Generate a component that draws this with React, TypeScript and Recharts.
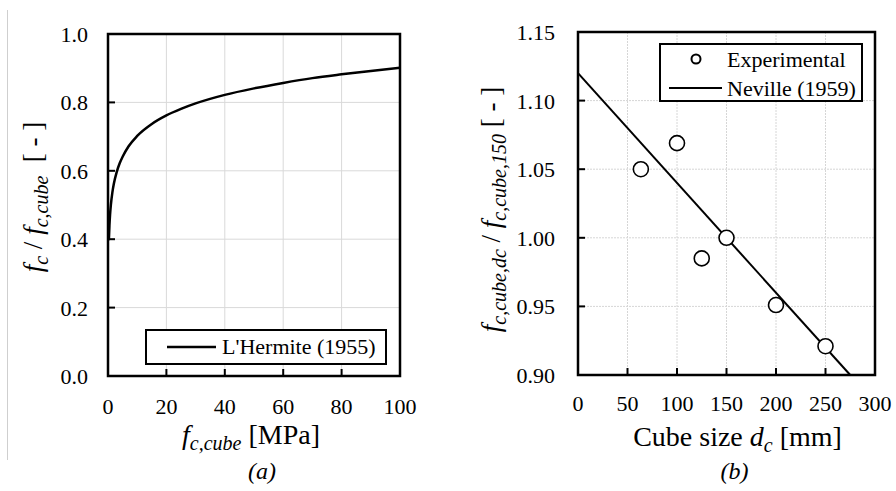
import React from 'react';
import {
  CartesianGrid,
  ComposedChart,
  Legend,
  Line,
  LineChart,
  ReferenceArea,
  Scatter,
  XAxis,
  YAxis,
} from 'recharts';

const FONT = "'Liberation Serif', 'DejaVu Serif', 'Times New Roman', serif";
const NB = '\u00a0';

// (a) L'Hermite (1955): f_c / f_c,cube against f_c,cube
const cubeStrength = [0.3, 0.5, 0.7, 1, 1.5, 2, 3, 4, 5, 7, 10, 15, 20, 25, 30, 40, 50, 60, 70, 80, 90, 100];
const strengthRatio = [
  0.397, 0.441, 0.471, 0.502, 0.537, 0.562, 0.597, 0.622, 0.641, 0.671, 0.702, 0.737, 0.762, 0.781,
  0.797, 0.822, 0.841, 0.857, 0.871, 0.882, 0.892, 0.901,
];
const strengthTicks = [0, 20, 40, 60, 80, 100];
const ratioTicks = [0, 0.2, 0.4, 0.6, 0.8, 1.0];

// (b) size effect: experimental points and Neville (1959)
const cubeSize = [63.5, 100, 125, 150, 200, 250];
const sizeRatio = [1.05, 1.069, 0.985, 1.0, 0.951, 0.921];
const nevilleSize = [0, 275];
const nevilleRatio = [1.12, 0.9];
const sizeTicks = [0, 50, 100, 150, 200, 250, 300];
const sizeRatioTicks = [0.9, 0.95, 1.0, 1.05, 1.1, 1.15];

const hermiteData = cubeStrength.map((x, i) => ({ x, y: strengthRatio[i] }));
const experimentalData = cubeSize.map((x, i) => ({ x, y: sizeRatio[i] }));
const nevilleData = nevilleSize.map((x, i) => ({ x, y: nevilleRatio[i] }));

const txt = { fontFamily: FONT, fill: '#000' };

const makeYTick = (digits: number, gap: number) => (props: any) => {
  const { x, y, payload } = props;
  return (
    <g>
      <line x1={x} x2={x + 7} y1={y} y2={y} stroke="#000" strokeWidth={2} />
      <text x={x - gap} y={y + 8} textAnchor="end" fontSize={22} style={txt}>
        {Number(payload.value).toFixed(digits)}
      </text>
    </g>
  );
};

const makeXTick = (offset: number) => (props: any) => {
  const { x, y, payload } = props;
  return (
    <g>
      <line x1={x} x2={x} y1={y} y2={y - 7} stroke="#000" strokeWidth={2} />
      <text x={x} y={y + offset} textAnchor="middle" fontSize={22} style={txt}>
        {payload.value}
      </text>
    </g>
  );
};

const sub = (t: string) => (
  <tspan fontStyle="italic" fontSize={20} dy={6}>
    {t}
  </tspan>
);

const LeftXLabel = ({ viewBox }: any) => {
  const cx = viewBox.x + viewBox.width / 2;
  return (
    <g>
      <text x={cx - 3} y={444} textAnchor="middle" fontSize={28} style={txt}>
        <tspan fontStyle="italic">f</tspan>
        {sub('c,cube')}
        <tspan dy={-6}>{NB}[MPa]</tspan>
      </text>
      <text x={262} y={479} textAnchor="middle" fontSize={24} fontStyle="italic" style={txt}>
        (a)
      </text>
    </g>
  );
};

const LeftYLabel = ({ viewBox }: any) => {
  const cx = 42;
  const cy = viewBox.y + viewBox.height / 2 - 8;
  return (
    <text
      transform={`rotate(-90 ${cx} ${cy})`}
      x={cx}
      y={cy}
      textAnchor="middle"
      fontSize={27}
      style={txt}
    >
      <tspan fontStyle="italic">f</tspan>
      {sub('c')}
      <tspan dy={-6}>{NB}/{NB}</tspan>
      <tspan fontStyle="italic">f</tspan>
      {sub('c,cube')}
      <tspan dy={-6}>{NB}{NB}[ - ]</tspan>
    </text>
  );
};

const RightXLabel = ({ viewBox }: any) => {
  const cx = viewBox.x + viewBox.width / 2;
  return (
    <g>
      <text x={cx + 11} y={446} textAnchor="middle" fontSize={28} style={txt}>
        Cube size{NB}
        <tspan fontStyle="italic">d</tspan>
        {sub('c')}
        <tspan dy={-6}>{NB}[mm]</tspan>
      </text>
      <text x={cx + 8} y={479} textAnchor="middle" fontSize={24} fontStyle="italic" style={txt}>
        (b)
      </text>
    </g>
  );
};

const RightYLabel = ({ viewBox }: any) => {
  const cx = viewBox.x + 60;
  const cy = viewBox.y + viewBox.height / 2 + 6;
  return (
    <text
      transform={`rotate(-90 ${cx} ${cy})`}
      x={cx}
      y={cy}
      textAnchor="middle"
      fontSize={27}
      style={txt}
    >
      <tspan fontStyle="italic">f</tspan>
      {sub('c,cube,dc')}
      <tspan dy={-6}>{NB}/{NB}</tspan>
      <tspan fontStyle="italic">f</tspan>
      {sub('c,cube,150')}
      <tspan dy={-6}>{NB}[ - ]</tspan>
    </text>
  );
};

const HermiteLegend = () => (
  <svg width={242} height={36} style={{ display: 'block' }}>
    <rect x={1} y={1} width={240} height={34} fill="#fff" stroke="#000" strokeWidth={2} />
    <line x1={22} x2={71} y1={18} y2={18} stroke="#000" strokeWidth={2.5} />
    <text x={77} y={25} fontSize={22} style={txt}>
      L'Hermite (1955)
    </text>
  </svg>
);

const SizeLegend = () => (
  <svg width={204} height={59} style={{ display: 'block' }}>
    <rect x={1} y={1} width={202} height={57} fill="#fff" stroke="#000" strokeWidth={2} />
    <circle cx={37} cy={16} r={4.5} fill="#fff" stroke="#000" strokeWidth={2} />
    <text x={68} y={24} fontSize={22} style={txt}>
      Experimental
    </text>
    <line x1={10} x2={63} y1={45} y2={45} stroke="#000" strokeWidth={2} />
    <text x={68} y={53} fontSize={22} style={txt}>
      Neville (1959)
    </text>
  </svg>
);

const OpenCircle = (props: any) => (
  <circle cx={props.cx} cy={props.cy} r={7.5} fill="#fff" stroke="#000" strokeWidth={1.6} />
);

export default function App() {
  return (
    <div
      style={{
        position: 'absolute',
        left: 0,
        top: 0,
        width: 896,
        height: 491,
        background: '#fff',
        fontFamily: FONT,
      }}
    >
      <div style={{ position: 'absolute', left: 7, top: 10, width: 1, height: 450, background: '#cfcfcf' }} />

      <div style={{ position: 'absolute', left: 0, top: 0 }}>
        <LineChart
          width={440}
          height={491}
          data={hermiteData}
          margin={{ top: 34, right: 40, bottom: 85, left: 0 }}
          style={{ fontFamily: FONT }}
        >
          <CartesianGrid stroke="#d9d9d9" strokeWidth={1} />
          <XAxis
            type="number"
            dataKey="x"
            domain={[0, 100]}
            ticks={strengthTicks}
            interval={0}
            height={30}
            axisLine={false}
            tickLine={false}
            tickSize={0}
            tickMargin={0}
            tick={makeXTick(38)}
            label={LeftXLabel}
          />
          <YAxis
            type="number"
            dataKey="y"
            domain={[0, 1]}
            ticks={ratioTicks}
            interval={0}
            width={108}
            axisLine={false}
            tickLine={false}
            tickSize={0}
            tickMargin={0}
            tick={makeYTick(1, 20)}
            label={LeftYLabel}
          />
          <Line
            type="monotone"
            dataKey="y"
            stroke="#000"
            strokeWidth={2.5}
            dot={false}
            isAnimationActive={false}
          />
          <ReferenceArea x1={0} x2={100} y1={0} y2={1} fill="none" stroke="#000" strokeWidth={2.5} />
          <Legend
            layout="vertical"
            align="center"
            verticalAlign="middle"
            width={242}
            wrapperStyle={{ left: 145, top: 329 }}
            content={HermiteLegend}
          />
        </LineChart>
      </div>

      <div style={{ position: 'absolute', left: 440, top: 0 }}>
        <ComposedChart
          width={456}
          height={491}
          margin={{ top: 32, right: 21, bottom: 86, left: 0 }}
          style={{ fontFamily: FONT }}
        >
          <CartesianGrid stroke="#d6d6d6" strokeWidth={1} strokeDasharray="2 1" />
          <XAxis
            type="number"
            dataKey="x"
            domain={[0, 300]}
            ticks={sizeTicks}
            interval={0}
            height={30}
            axisLine={false}
            tickLine={false}
            tickSize={0}
            tickMargin={0}
            tick={makeXTick(36)}
            label={RightXLabel}
          />
          <YAxis
            type="number"
            dataKey="y"
            domain={[0.9, 1.15]}
            ticks={sizeRatioTicks}
            interval={0}
            width={138}
            axisLine={false}
            tickLine={false}
            tickSize={0}
            tickMargin={0}
            tick={makeYTick(2, 23)}
            label={RightYLabel}
          />
          <Line
            data={nevilleData}
            type="linear"
            dataKey="y"
            stroke="#000"
            strokeWidth={2}
            dot={false}
            isAnimationActive={false}
          />
          <Scatter data={experimentalData} dataKey="y" shape={OpenCircle} isAnimationActive={false} />
          <ReferenceArea x1={0} x2={300} y1={0.9} y2={1.15} fill="none" stroke="#000" strokeWidth={2.5} />
          <Legend
            layout="vertical"
            align="center"
            verticalAlign="middle"
            width={204}
            wrapperStyle={{ left: 219, top: 43 }}
            content={SizeLegend}
          />
        </ComposedChart>
      </div>
    </div>
  );
}
